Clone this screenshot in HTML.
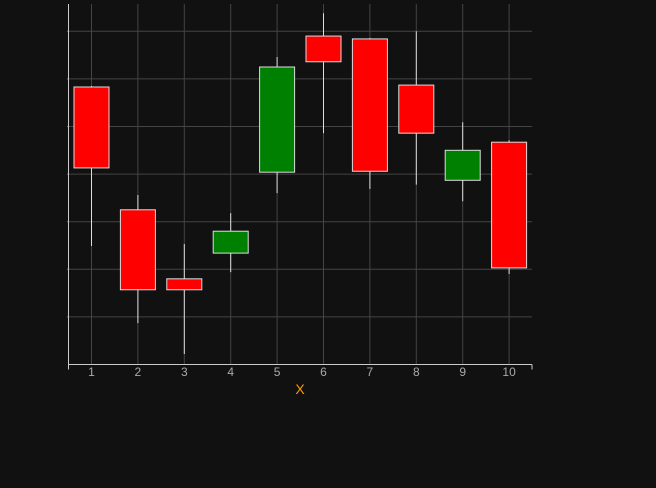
<!DOCTYPE html>
<html><head><meta charset="utf-8"><style>
html,body{margin:0;padding:0;background:#111111;}
svg{display:block;font-family:"Liberation Sans",sans-serif;}
</style></head><body>
<svg id="chart" width="656" height="488">
<rect width="656" height="488" fill="#111111"/>
<g id="grid"></g><g id="marks"></g><g id="axes"></g>
<text x="300" y="394" fill="#ff9900" font-size="14" text-anchor="middle">X</text>
</svg>
<script>
const categories=[1,2,3,4,5,6,7,8,9,10];
const opens=[5.83,3.25,1.80,2.34,4.04,6.90,6.84,5.87,3.87,4.67];
const closes=[4.13,1.57,1.57,2.80,6.25,6.36,4.06,4.86,4.50,2.03];
const highs=[5.85,3.56,2.53,3.18,6.46,7.38,6.86,7.00,5.09,4.71];
const lows=[2.49,0.87,0.22,1.94,3.60,4.86,3.69,3.78,3.43,1.90];
const yTicks=[1,2,3,4,5,6,7];
const NS="http://www.w3.org/2000/svg";
const L=68.5,R=532,T=4,B=364.5;
const xs=i=>91.5+(i)*46.4;
const ys=v=>B-v*47.6;
function mk(t,a,p){const e=document.createElementNS(NS,t);for(const k in a)e.setAttribute(k,a[k]);p.appendChild(e);return e;}
const grid=document.getElementById('grid'),marks=document.getElementById('marks'),axes=document.getElementById('axes');
yTicks.forEach(v=>{const l=mk('line',{x1:L,x2:R,y1:ys(v),y2:ys(v),stroke:'#444','stroke-width':1},grid);


const t=mk('line',{x1:L-1,x2:L,y1:ys(v),y2:ys(v),stroke:'#ccc'},axes);

});
categories.forEach((c,i)=>{const l=mk('line',{x1:xs(i),x2:xs(i),y1:T,y2:B,stroke:'#444','stroke-width':1},grid);


const t=mk('text',{x:xs(i),y:376,fill:'#aaa','font-size':12,'text-anchor':'middle'},axes);t.textContent=c;


const up=closes[i]>=opens[i];
const w=mk('line',{x1:xs(i),x2:xs(i),y1:ys(highs[i]),y2:ys(lows[i]),stroke:'#ddd','stroke-width':1},marks);


const top=ys(Math.max(opens[i],closes[i])),bot=ys(Math.min(opens[i],closes[i]));
const r=mk('rect',{x:xs(i)-17.5,y:top,width:35,height:Math.max(1,bot-top),fill:up?'#008000':'#ff0000',stroke:'#ddd','stroke-width':1},marks);

});
const ax=mk('line',{x1:L,x2:L,y1:T,y2:B,stroke:'#ccc'},axes);


const bx=mk('line',{x1:L,x2:R,y1:B,y2:B,stroke:'#ccc'},axes);


[L,R].forEach(x=>{const t=mk('line',{x1:x,x2:x,y1:B,y2:B+5,stroke:'#ccc'},axes);

});
</script>
</body></html>
